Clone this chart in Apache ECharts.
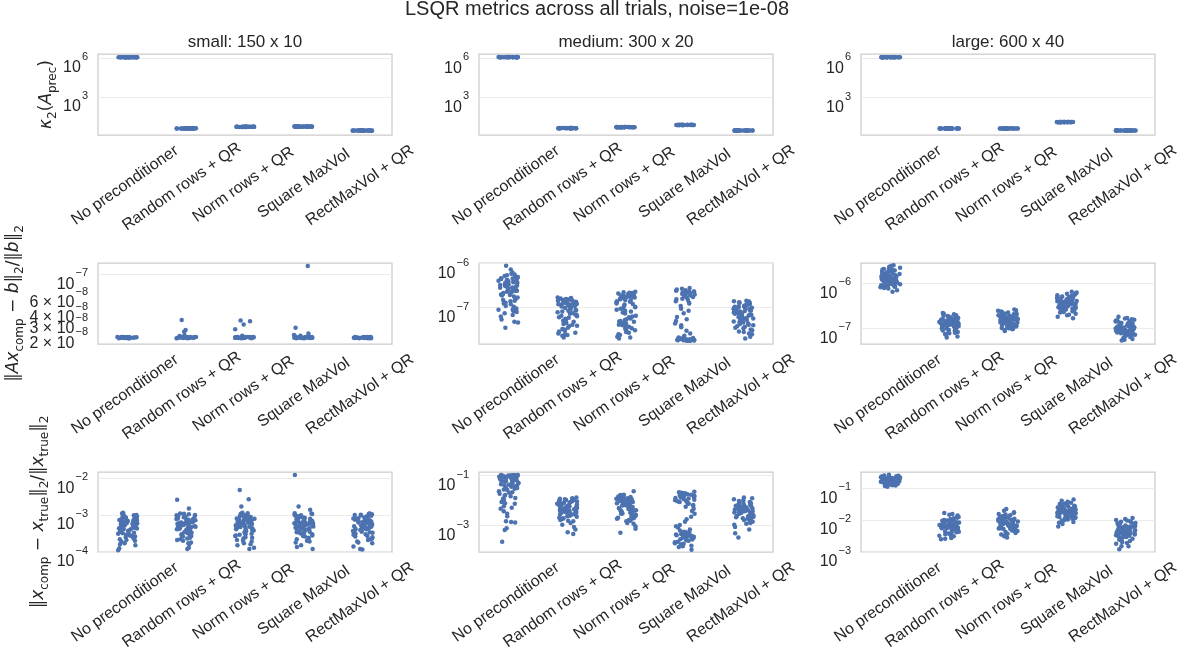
<!DOCTYPE html>
<html>
<head>
<meta charset="utf-8">
<script src="https://cdn.jsdelivr.net/npm/echarts@6/dist/echarts.min.js"></script>
<style>
  html, body { margin: 0; padding: 0; background: #ffffff; }
  #chart { width: 1194px; height: 663px; }
</style>
</head>
<body>
<div id="chart"></div>
<script>
// ---------------------------------------------------------------
// LSQR benchmark: per-trial metrics for five preconditioners
// ---------------------------------------------------------------
const mainTitle = 'LSQR metrics across all trials, noise=1e-08';
const categories = ['No preconditioner', 'Random rows + QR', 'Norm rows + QR', 'Square MaxVol', 'RectMaxVol + QR'];
const sizeTitles = ['small: 150 x 10', 'medium: 300 x 20', 'large: 600 x 40'];

// tick labels of each row / column (log axes)
const kappaTicks = [[1e3, 1e6], [1e3, 1e6], [1e3, 1e6]];
const residualTicks = [[2e-8, 3e-8, 4e-8, 6e-8, 1e-7], [1e-7, 1e-6], [1e-7, 1e-6]];
const residualGrid = [[1e-7], [1e-7, 1e-6], [1e-7, 1e-6]];
const errorTicks = [[1e-4, 1e-3, 1e-2], [1e-3, 1e-1], [1e-3, 1e-2, 1e-1]];

// condition number of the preconditioned matrix, one list per method
const kappaSmall = [
  [1.12e6,1.10e6,1.13e6,1.11e6,1.12e6,1.14e6,1.10e6,1.12e6,1.13e6,1.11e6,1.12e6,1.10e6,1.13e6,1.12e6,1.11e6,1.14e6,1.12e6,1.10e6,1.13e6,1.11e6,1.12e6,1.13e6,1.11e6,1.12e6],
  [3.7,3.8,3.6,3.7,3.75,3.65,3.7,3.8,3.7,3.6,3.75,3.7,3.65,3.8,3.7,3.7,3.6,3.75,3.7,3.65,3.8,3.7,3.75,3.7],
  [4.9,5.0,4.8,4.9,4.95,4.85,4.9,5.0,4.9,4.8,4.95,4.9,4.85,5.0,4.9,4.9,4.8,4.95,4.9,4.85,5.0,4.9,4.95,4.9],
  [5.1,5.2,5.0,5.1,5.15,5.05,5.1,5.2,5.1,5.0,5.15,5.1,5.05,5.2,5.1,5.1,5.0,5.15,5.1,5.05,5.2,5.1,5.15,5.1],
  [2.5,2.55,2.45,2.5,2.52,2.48,2.5,2.55,2.5,2.45,2.52,2.5,2.48,2.55,2.5,2.5,2.45,2.52,2.5,2.48,2.55,2.5,2.52,2.5]
];
const kappaMedium = [
  [1.20e6,1.18e6,1.21e6,1.19e6,1.20e6,1.22e6,1.18e6,1.20e6,1.21e6,1.19e6,1.20e6,1.18e6,1.21e6,1.20e6,1.19e6,1.22e6,1.20e6,1.18e6,1.21e6,1.19e6,1.20e6,1.21e6,1.19e6,1.20e6],
  [4.2,4.3,4.1,4.2,4.25,4.15,4.2,4.3,4.2,4.1,4.25,4.2,4.15,4.3,4.2,4.2,4.1,4.25,4.2,4.15,4.3,4.2,4.25,4.2],
  [5.0,5.1,4.9,5.0,5.05,4.95,5.0,5.1,5.0,4.9,5.05,5.0,4.95,5.1,5.0,5.0,4.9,5.05,5.0,4.95,5.1,5.0,5.05,5.0],
  [7.4,7.6,7.2,7.4,7.5,7.3,7.4,7.6,7.4,7.2,7.5,7.4,7.3,7.6,7.4,7.4,7.2,7.5,7.4,7.3,7.6,7.4,7.5,7.4],
  [2.8,2.82,2.78,2.8,2.81,2.79,2.8,2.82,2.8,2.78,2.81,2.8,2.79,2.82,2.8,2.8,2.78,2.81,2.8,2.79,2.82,2.8,2.81,2.8]
];
const kappaLarge = [
  [1.20e6,1.19e6,1.21e6,1.20e6,1.20e6,1.21e6,1.19e6,1.20e6,1.21e6,1.19e6,1.20e6,1.19e6,1.21e6,1.20e6,1.19e6,1.21e6,1.20e6,1.19e6,1.21e6,1.20e6,1.20e6,1.21e6,1.19e6,1.20e6],
  [4.4,4.45,4.35,4.4,4.42,4.38,4.4,4.45,4.4,4.35,4.42,4.4,4.38,4.45,4.4,4.4,4.35,4.42,4.4,4.38,4.45,4.4,4.42,4.4],
  [4.4,4.5,4.3,4.4,4.45,4.35,4.4,4.5,4.4,4.3,4.45,4.4,4.35,4.5,4.4,4.4,4.3,4.45,4.4,4.35,4.5,4.4,4.45,4.4],
  [13.5,13.8,13.2,13.5,13.7,13.3,13.5,13.9,13.5,13.1,13.7,13.5,13.3,13.8,13.5,13.5,13.2,13.7,13.5,13.3,13.8,13.5,13.6,13.4],
  [3.1,3.12,3.08,3.1,3.11,3.09,3.1,3.12,3.1,3.08,3.11,3.1,3.09,3.12,3.1,3.1,3.08,3.11,3.1,3.09,3.12,3.1,3.11,3.1]
];

// relative residual ||A x - b|| / ||b||
const residualSmall = [
  [1.78e-8,1.80e-8,1.76e-8,1.79e-8,1.81e-8,1.77e-8,1.78e-8,1.80e-8,1.79e-8,1.76e-8,1.82e-8,1.78e-8,1.79e-8,1.77e-8,1.80e-8,1.78e-8,1.81e-8,1.79e-8,1.76e-8,1.78e-8,1.80e-8,1.77e-8,1.79e-8,1.81e-8],
  [1.79e-8,1.77e-8,1.81e-8,1.78e-8,1.80e-8,1.76e-8,1.79e-8,1.82e-8,1.78e-8,1.77e-8,1.80e-8,1.79e-8,1.81e-8,1.78e-8,1.76e-8,1.80e-8,1.79e-8,1.77e-8,1.82e-8,1.78e-8,1.80e-8,1.79e-8,2.88e-8,2.10e-8,2.20e-8,1.90e-8,1.86e-8],
  [1.80e-8,1.78e-8,1.77e-8,1.81e-8,1.79e-8,1.76e-8,1.80e-8,1.78e-8,1.82e-8,1.79e-8,1.77e-8,1.80e-8,1.78e-8,1.81e-8,1.79e-8,1.76e-8,1.80e-8,1.78e-8,1.77e-8,1.81e-8,1.79e-8,1.78e-8,2.24e-8,2.78e-8,2.85e-8,2.55e-8,1.88e-8],
  [1.79e-8,1.81e-8,1.77e-8,1.80e-8,1.78e-8,1.76e-8,1.82e-8,1.79e-8,1.77e-8,1.80e-8,1.78e-8,1.81e-8,1.79e-8,1.76e-8,1.80e-8,1.78e-8,1.83e-8,1.79e-8,1.77e-8,1.80e-8,1.85e-8,1.88e-8,1.25e-7,2.34e-8,2.00e-8,1.91e-8],
  [1.77e-8,1.79e-8,1.80e-8,1.78e-8,1.76e-8,1.81e-8,1.79e-8,1.77e-8,1.80e-8,1.78e-8,1.82e-8,1.79e-8,1.76e-8,1.80e-8,1.78e-8,1.77e-8,1.81e-8,1.79e-8,1.78e-8,1.80e-8,1.76e-8,1.79e-8,1.81e-8,1.78e-8]
];
const residualMedium = [
  [9.0e-7,7.4e-7,6.3e-7,5.9e-7,5.5e-7,5.3e-7,5.0e-7,4.7e-7,4.5e-7,4.4e-7,4.1e-7,3.9e-7,3.8e-7,3.6e-7,3.5e-7,3.3e-7,3.2e-7,3.1e-7,2.9e-7,2.8e-7,2.7e-7,2.5e-7,2.4e-7,2.3e-7,2.2e-7,2.0e-7,1.9e-7,1.8e-7,1.6e-7,1.5e-7,1.4e-7,1.3e-7,1.2e-7,1.1e-7,9.6e-8,9.0e-8,8.7e-8,8.4e-8,7.5e-8,6.3e-8,5.4e-8,4.8e-8,4.6e-8,3.5e-8,4.3e-7,3.4e-7,2.6e-7,
   5.7e-7,5.1e-7,4.8e-7,4.6e-7,4.2e-7,4.0e-7,3.7e-7,3.55e-7,3.35e-7,3.15e-7,3.0e-7,2.85e-7,2.65e-7,2.45e-7,2.35e-7,2.15e-7,2.05e-7,1.95e-7,1.7e-7,1.45e-7,1.25e-7,1.05e-7,9.3e-8,8.0e-8,6.8e-8],
  [1.70e-7,1.62e-7,1.55e-7,1.58e-7,1.48e-7,1.44e-7,1.40e-7,1.36e-7,1.31e-7,1.27e-7,1.22e-7,1.18e-7,1.15e-7,1.09e-7,1.05e-7,1.01e-7,9.6e-8,9.3e-8,8.8e-8,8.2e-8,7.9e-8,7.3e-8,6.9e-8,6.4e-8,6.1e-8,5.6e-8,5.3e-8,4.8e-8,4.5e-8,4.1e-8,3.8e-8,3.5e-8,3.2e-8,2.9e-8,2.7e-8,2.5e-8,2.3e-8,2.1e-8,1.34e-7,1.12e-7,
   1.66e-7,1.52e-7,1.46e-7,1.38e-7,1.29e-7,1.2e-7,1.07e-7,9.9e-8,9.0e-8,8.5e-8,7.6e-8,7.0e-8,6.6e-8,5.9e-8,5.1e-8,4.6e-8,4.3e-8,3.9e-8,3.3e-8,3.0e-8,2.6e-8,2.4e-8,1.6e-7,1.42e-7,1.17e-7],
  [2.3e-7,2.2e-7,2.1e-7,2.0e-7,1.9e-7,1.85e-7,1.78e-7,1.7e-7,1.62e-7,1.55e-7,1.48e-7,1.4e-7,1.32e-7,1.25e-7,1.18e-7,1.1e-7,1.02e-7,9.5e-8,9.0e-8,8.2e-8,7.4e-8,6.6e-8,6.1e-8,5.7e-8,5.3e-8,4.9e-8,4.6e-8,4.3e-8,4.0e-8,3.7e-8,3.5e-8,3.3e-8,3.0e-8,2.8e-8,2.5e-8,2.2e-8,2.0e-8,1.95e-7,1.6e-7,5.0e-8,
   2.25e-7,2.05e-7,1.95e-7,1.82e-7,1.74e-7,1.66e-7,1.5e-7,1.36e-7,1.22e-7,1.06e-7,9.7e-8,8.6e-8,7.8e-8,6.3e-8,5.5e-8,4.8e-8,4.4e-8,4.1e-8,3.8e-8,3.4e-8,3.1e-8,2.7e-8,2.4e-8,2.1e-8,2.15e-7],
  [2.8e-7,2.6e-7,2.5e-7,2.4e-7,2.3e-7,2.2e-7,2.1e-7,2.0e-7,1.9e-7,1.8e-7,1.7e-7,1.6e-7,1.5e-7,1.4e-7,1.25e-7,1.1e-7,9.5e-8,7.5e-8,6.2e-8,5.0e-8,4.4e-8,3.6e-8,3.0e-8,2.6e-8,2.3e-8,2.15e-8,2.05e-8,1.98e-8,1.92e-8,1.88e-8,1.85e-8,1.83e-8,1.81e-8,1.80e-8,1.79e-8,1.86e-8,1.9e-8,1.84e-8,1.82e-8,1.95e-8,
   2.7e-7,2.45e-7,2.35e-7,2.15e-7,2.05e-7,1.95e-7,1.75e-7,1.55e-7,1.3e-7,8.5e-8,5.5e-8,4.0e-8,1.84e-8,1.86e-8,1.81e-8,1.83e-8,1.87e-8,1.8e-8,1.89e-8,1.82e-8,1.85e-8,1.93e-8,2.0e-8,2.1e-8,1.78e-8],
  [1.45e-7,1.38e-7,1.3e-7,1.25e-7,1.2e-7,1.15e-7,1.1e-7,1.06e-7,1.02e-7,9.8e-8,9.4e-8,9.0e-8,8.6e-8,8.2e-8,7.8e-8,7.5e-8,7.1e-8,6.8e-8,6.4e-8,6.1e-8,5.8e-8,5.5e-8,5.2e-8,4.9e-8,4.6e-8,4.3e-8,4.0e-8,3.7e-8,3.4e-8,3.1e-8,2.8e-8,2.5e-8,2.2e-8,2.0e-8,1.08e-7,9.2e-8,8.0e-8,6.6e-8,5.6e-8,1.18e-7,
   1.4e-7,1.33e-7,1.22e-7,1.13e-7,1.04e-7,9.6e-8,8.8e-8,8.4e-8,7.7e-8,7.3e-8,6.9e-8,6.2e-8,5.7e-8,5.3e-8,5.0e-8,4.7e-8,4.4e-8,4.1e-8,3.8e-8,3.5e-8,3.2e-8,2.9e-8,2.6e-8,1.27e-7,1.0e-7]
];
const residualLarge = [
  [2.5e-6,2.3e-6,2.2e-6,2.05e-6,1.95e-6,1.85e-6,1.8e-6,1.72e-6,1.65e-6,1.6e-6,1.55e-6,1.5e-6,1.46e-6,1.42e-6,1.38e-6,1.34e-6,1.3e-6,1.27e-6,1.24e-6,1.2e-6,1.17e-6,1.14e-6,1.1e-6,1.07e-6,1.04e-6,1.0e-6,9.7e-7,9.4e-7,9.1e-7,8.8e-7,8.5e-7,8.1e-7,7.6e-7,7.0e-7,6.5e-7,1.52e-6,1.32e-6,1.12e-6,1.25e-6,1.4e-6,
   2.4e-6,2.1e-6,1.9e-6,1.75e-6,1.68e-6,1.62e-6,1.57e-6,1.48e-6,1.44e-6,1.36e-6,1.28e-6,1.22e-6,1.18e-6,1.15e-6,1.08e-6,1.02e-6,9.5e-7,9.0e-7,8.3e-7,7.8e-7,1.6e-6,1.35e-6,1.26e-6,1.1e-6,2.0e-6],
  [2.2e-7,2.05e-7,1.95e-7,1.88e-7,1.8e-7,1.74e-7,1.68e-7,1.62e-7,1.57e-7,1.52e-7,1.47e-7,1.43e-7,1.39e-7,1.35e-7,1.31e-7,1.28e-7,1.24e-7,1.2e-7,1.17e-7,1.13e-7,1.1e-7,1.06e-7,1.03e-7,1.0e-7,9.6e-8,9.2e-8,8.8e-8,8.3e-8,7.8e-8,7.2e-8,6.6e-8,6.3e-8,1.45e-7,1.33e-7,1.22e-7,1.55e-7,1.66e-7,1.15e-7,9.9e-8,1.38e-7,
   2.1e-7,1.9e-7,1.76e-7,1.7e-7,1.6e-7,1.5e-7,1.45e-7,1.41e-7,1.37e-7,1.32e-7,1.26e-7,1.21e-7,1.16e-7,1.11e-7,1.08e-7,1.04e-7,9.8e-8,9.4e-8,9.0e-8,8.5e-8,8.0e-8,7.5e-8,1.29e-7,1.19e-7,1.48e-7],
  [2.6e-7,2.45e-7,2.35e-7,2.25e-7,2.15e-7,2.08e-7,2.0e-7,1.93e-7,1.87e-7,1.81e-7,1.75e-7,1.7e-7,1.65e-7,1.6e-7,1.55e-7,1.5e-7,1.46e-7,1.42e-7,1.38e-7,1.34e-7,1.3e-7,1.26e-7,1.22e-7,1.18e-7,1.14e-7,1.1e-7,1.05e-7,1.0e-7,9.5e-8,8.7e-8,1.62e-7,1.52e-7,1.44e-7,1.78e-7,1.9e-7,1.36e-7,1.28e-7,2.1e-7,1.57e-7,1.2e-7,
   2.5e-7,2.3e-7,2.2e-7,2.05e-7,1.96e-7,1.84e-7,1.72e-7,1.67e-7,1.58e-7,1.53e-7,1.48e-7,1.43e-7,1.39e-7,1.32e-7,1.24e-7,1.16e-7,1.12e-7,1.07e-7,1.02e-7,9.8e-8,9.2e-8,1.63e-7,1.47e-7,1.35e-7,1.79e-7],
  [6.5e-7,6.0e-7,5.6e-7,5.3e-7,5.0e-7,4.8e-7,4.6e-7,4.4e-7,4.25e-7,4.1e-7,3.95e-7,3.8e-7,3.7e-7,3.6e-7,3.5e-7,3.4e-7,3.3e-7,3.2e-7,3.1e-7,3.0e-7,2.9e-7,2.8e-7,2.7e-7,2.55e-7,2.4e-7,2.25e-7,2.1e-7,1.95e-7,1.8e-7,1.67e-7,4.5e-7,3.85e-7,3.45e-7,4.0e-7,3.65e-7,2.95e-7,3.25e-7,4.3e-7,3.55e-7,2.6e-7,
   6.2e-7,5.8e-7,5.4e-7,5.1e-7,4.9e-7,4.7e-7,4.5e-7,4.2e-7,4.05e-7,3.9e-7,3.75e-7,3.6e-7,3.5e-7,3.38e-7,3.28e-7,3.15e-7,3.05e-7,2.85e-7,2.75e-7,2.5e-7,2.3e-7,2.0e-7,3.7e-7,3.3e-7,4.1e-7],
  [1.8e-7,1.65e-7,1.55e-7,1.48e-7,1.41e-7,1.35e-7,1.29e-7,1.24e-7,1.19e-7,1.14e-7,1.1e-7,1.06e-7,1.02e-7,9.9e-8,9.6e-8,9.3e-8,9.0e-8,8.7e-8,8.4e-8,8.1e-8,7.8e-8,7.5e-8,7.2e-8,6.9e-8,6.6e-8,6.2e-8,5.8e-8,5.4e-8,1.0e-7,9.4e-8,8.8e-8,1.12e-7,1.27e-7,8.2e-8,7.6e-8,1.05e-7,9.8e-8,1.17e-7,7.0e-8,8.9e-8,
   1.7e-7,1.6e-7,1.52e-7,1.44e-7,1.38e-7,1.32e-7,1.26e-7,1.21e-7,1.16e-7,1.12e-7,1.08e-7,1.03e-7,9.7e-8,9.2e-8,8.6e-8,8.3e-8,8.0e-8,7.7e-8,7.3e-8,6.8e-8,6.4e-8,6.0e-8,5.6e-8,9.5e-8,1.0e-7]
];

// relative forward error ||x - x_true|| / ||x_true||
const errorSmall = [
  [1.15e-3,1.1e-3,1.05e-3,9.8e-4,9.2e-4,8.6e-4,8.1e-4,7.7e-4,7.3e-4,6.9e-4,6.5e-4,6.2e-4,5.9e-4,5.6e-4,5.3e-4,5.0e-4,4.8e-4,4.5e-4,4.3e-4,4.1e-4,3.9e-4,3.7e-4,3.5e-4,3.3e-4,3.1e-4,2.9e-4,2.7e-4,2.5e-4,2.3e-4,2.1e-4,1.9e-4,1.7e-4,1.5e-4,1.25e-4,1.1e-4,5.7e-4,4.6e-4,6.0e-4,3.8e-4,7.0e-4,
   1.0e-3,9.5e-4,8.8e-4,8.3e-4,7.9e-4,7.5e-4,7.1e-4,6.7e-4,6.3e-4,5.8e-4,5.5e-4,5.1e-4,4.9e-4,4.4e-4,4.2e-4,4.0e-4,3.6e-4,3.4e-4,3.2e-4,3.0e-4,2.8e-4,2.6e-4,2.2e-4,2.0e-4,1.6e-4],
  [2.6e-3,1.5e-3,1.1e-3,1.05e-3,9.8e-4,9.2e-4,8.7e-4,8.2e-4,7.8e-4,7.4e-4,7.0e-4,6.7e-4,6.4e-4,6.1e-4,5.8e-4,5.5e-4,5.2e-4,5.0e-4,4.7e-4,4.5e-4,4.2e-4,4.0e-4,3.8e-4,3.6e-4,3.4e-4,3.2e-4,3.0e-4,2.8e-4,2.6e-4,2.4e-4,2.2e-4,2.0e-4,1.8e-4,1.6e-4,1.3e-4,1.2e-4,6.3e-4,5.3e-4,7.6e-4,4.4e-4,5.6e-4,6.9e-4,
   1.08e-3,1.0e-3,9.5e-4,9.0e-4,8.4e-4,8.0e-4,7.6e-4,7.2e-4,6.6e-4,6.2e-4,5.9e-4,5.4e-4,5.1e-4,4.8e-4,4.6e-4,4.3e-4,4.1e-4,3.9e-4,3.5e-4,3.3e-4,2.9e-4,2.7e-4,2.3e-4,2.1e-4,1.7e-4],
  [4.8e-3,2.7e-3,1.7e-3,1.15e-3,1.08e-3,1.0e-3,9.4e-4,8.9e-4,8.4e-4,7.9e-4,7.5e-4,7.1e-4,6.8e-4,6.5e-4,6.2e-4,5.9e-4,5.6e-4,5.3e-4,5.0e-4,4.7e-4,4.4e-4,4.1e-4,3.8e-4,3.6e-4,3.3e-4,3.1e-4,2.9e-4,2.7e-4,2.5e-4,2.3e-4,2.1e-4,1.9e-4,1.7e-4,1.5e-4,1.3e-4,1.2e-4,6.0e-4,7.3e-4,5.5e-4,4.9e-4,6.6e-4,8.1e-4,
   1.12e-3,1.04e-3,9.7e-4,9.1e-4,8.6e-4,8.2e-4,7.7e-4,7.3e-4,6.9e-4,6.4e-4,6.1e-4,5.7e-4,5.4e-4,5.1e-4,4.8e-4,4.5e-4,4.2e-4,3.9e-4,3.7e-4,3.4e-4,3.0e-4,2.8e-4,2.4e-4,2.0e-4,1.6e-4],
  [1.23e-2,1.7e-3,1.4e-3,1.12e-3,1.06e-3,9.9e-4,9.3e-4,8.7e-4,8.2e-4,7.7e-4,7.3e-4,6.9e-4,6.5e-4,6.2e-4,5.9e-4,5.6e-4,5.4e-4,5.1e-4,4.9e-4,4.6e-4,4.3e-4,4.0e-4,3.7e-4,3.4e-4,3.2e-4,3.0e-4,2.8e-4,2.6e-4,2.4e-4,2.2e-4,2.0e-4,1.8e-4,1.5e-4,1.2e-4,5.7e-4,5.2e-4,6.4e-4,4.8e-4,6.0e-4,5.5e-4,7.1e-4,4.4e-4,
   1.1e-3,1.02e-3,9.6e-4,9.0e-4,8.4e-4,7.9e-4,7.5e-4,7.0e-4,6.7e-4,6.3e-4,6.1e-4,5.8e-4,5.3e-4,5.0e-4,4.7e-4,4.5e-4,4.1e-4,3.8e-4,3.5e-4,3.3e-4,2.9e-4,2.7e-4,2.3e-4,1.9e-4,1.35e-4],
  [1.1e-3,1.05e-3,1.0e-3,9.5e-4,9.0e-4,8.5e-4,8.0e-4,7.6e-4,7.2e-4,6.9e-4,6.6e-4,6.3e-4,6.0e-4,5.7e-4,5.4e-4,5.2e-4,4.9e-4,4.7e-4,4.5e-4,4.3e-4,4.1e-4,3.9e-4,3.7e-4,3.5e-4,3.3e-4,3.1e-4,2.9e-4,2.7e-4,2.5e-4,2.3e-4,2.1e-4,1.9e-4,1.7e-4,1.4e-4,1.2e-4,1.15e-4,5.5e-4,4.8e-4,6.2e-4,4.2e-4,
   1.08e-3,1.02e-3,9.7e-4,9.2e-4,8.7e-4,8.2e-4,7.8e-4,7.4e-4,7.0e-4,6.7e-4,6.4e-4,6.1e-4,5.8e-4,5.6e-4,5.3e-4,5.0e-4,4.6e-4,4.4e-4,4.0e-4,3.8e-4,3.4e-4,3.0e-4,2.6e-4,2.2e-4,1.8e-4]
];
const errorMedium = [
  [1.07e-1,1.05e-1,1.02e-1,1.0e-1,9.6e-2,9.2e-2,8.8e-2,8.3e-2,7.9e-2,7.4e-2,7.0e-2,6.6e-2,6.2e-2,5.8e-2,5.4e-2,5.0e-2,4.6e-2,4.2e-2,3.8e-2,3.4e-2,3.0e-2,2.7e-2,2.4e-2,2.1e-2,1.9e-2,1.7e-2,1.5e-2,1.3e-2,1.1e-2,9.0e-3,7.5e-3,6.0e-3,4.8e-3,3.8e-3,3.0e-3,2.4e-3,1.5e-3,1.4e-3,1.35e-3,7.9e-4,6.8e-4,2.3e-4,1.04e-1,9.9e-2,1.06e-1,1.03e-1,1.01e-1,9.7e-2,
   1.05e-1,1.0e-1,9.8e-2,9.4e-2,9.0e-2,8.6e-2,8.1e-2,7.7e-2,7.2e-2,6.8e-2,6.4e-2,6.0e-2,5.6e-2,5.2e-2,4.8e-2,4.4e-2,4.0e-2,3.6e-2,3.2e-2,2.8e-2,2.2e-2,1.6e-2,1.2e-2,8.0e-3,5.2e-3],
  [1.35e-2,1.2e-2,1.1e-2,1.03e-2,9.6e-3,9.0e-3,8.4e-3,7.9e-3,7.4e-3,6.9e-3,6.5e-3,6.1e-3,5.7e-3,5.4e-3,5.1e-3,4.8e-3,4.5e-3,4.2e-3,3.9e-3,3.7e-3,3.5e-3,3.3e-3,3.1e-3,2.9e-3,2.7e-3,2.5e-3,2.3e-3,2.1e-3,1.9e-3,1.7e-3,1.5e-3,1.3e-3,1.1e-3,9.0e-4,7.0e-4,5.5e-4,4.7e-4,4.0e-3,5.9e-3,3.4e-3,
   1.25e-2,1.15e-2,1.06e-2,9.9e-3,9.3e-3,8.7e-3,8.1e-3,7.6e-3,7.1e-3,6.7e-3,6.3e-3,5.9e-3,5.5e-3,5.2e-3,4.9e-3,4.6e-3,4.3e-3,4.1e-3,3.8e-3,3.6e-3,3.2e-3,2.8e-3,2.4e-3,2.0e-3,1.6e-3],
  [2.4e-2,1.75e-2,1.6e-2,1.48e-2,1.36e-2,1.25e-2,1.15e-2,1.06e-2,9.8e-3,9.0e-3,8.3e-3,7.6e-3,7.0e-3,6.4e-3,5.9e-3,5.4e-3,5.0e-3,4.6e-3,4.2e-3,3.9e-3,3.6e-3,3.3e-3,3.0e-3,2.7e-3,2.4e-3,2.1e-3,1.9e-3,1.7e-3,1.5e-3,1.3e-3,1.2e-3,9.5e-4,7.5e-4,5.3e-4,1.1e-2,8.6e-3,6.7e-3,5.2e-3,4.4e-3,1.3e-2,
   1.7e-2,1.55e-2,1.42e-2,1.3e-2,1.2e-2,1.1e-2,1.02e-2,9.4e-3,8.7e-3,7.9e-3,7.3e-3,6.6e-3,6.1e-3,5.6e-3,5.1e-3,4.8e-3,4.3e-3,4.0e-3,3.7e-3,3.4e-3,3.1e-3,2.8e-3,2.3e-3,2.0e-3,1.6e-3],
  [2.3e-2,2.1e-2,1.9e-2,1.75e-2,1.6e-2,1.45e-2,1.3e-2,1.18e-2,1.05e-2,9.5e-3,8.5e-3,7.6e-3,6.8e-3,5.8e-3,4.8e-3,3.9e-3,3.0e-3,2.3e-3,1.8e-3,1.45e-3,2.0e-2,1.4e-2,1.07e-3,8.5e-4,7.0e-4,5.8e-4,5.2e-4,4.7e-4,4.2e-4,3.8e-4,3.4e-4,3.1e-4,2.8e-4,2.5e-4,2.2e-4,2.0e-4,1.8e-4,1.6e-4,1.4e-4,1.1e-4,4.0e-4,3.2e-4,2.6e-4,4.5e-4,
   2.2e-2,1.95e-2,1.8e-2,1.65e-2,1.5e-2,1.35e-2,1.22e-2,1.1e-2,1.0e-2,9.0e-3,8.0e-3,6.3e-3,9.5e-4,6.5e-4,5.5e-4,4.9e-4,4.4e-4,3.9e-4,3.6e-4,3.3e-4,2.9e-4,2.7e-4,2.3e-4,1.9e-4,1.5e-4],
  [1.35e-2,1.25e-2,1.05e-2,9.2e-3,8.4e-3,7.8e-3,7.2e-3,6.7e-3,6.2e-3,5.8e-3,5.4e-3,5.0e-3,4.7e-3,4.4e-3,4.1e-3,3.8e-3,3.6e-3,3.4e-3,3.2e-3,3.0e-3,2.8e-3,2.6e-3,2.4e-3,2.2e-3,2.0e-3,1.8e-3,1.6e-3,1.45e-3,1.3e-3,1.1e-3,9.0e-4,7.0e-4,5.0e-4,3.4e-4,5.6e-3,4.3e-3,3.3e-3,2.5e-3,6.5e-3,3.9e-3,
   1.15e-2,9.8e-3,8.8e-3,8.1e-3,7.5e-3,7.0e-3,6.4e-3,6.0e-3,5.6e-3,5.2e-3,4.8e-3,4.5e-3,4.2e-3,4.0e-3,3.7e-3,3.5e-3,3.1e-3,2.9e-3,2.7e-3,2.3e-3,2.1e-3,1.9e-3,1.7e-3,1.5e-3,1.2e-3]
];
const errorLarge = [
  [2.6e-1,2.45e-1,2.35e-1,2.25e-1,2.18e-1,2.1e-1,2.03e-1,1.97e-1,1.91e-1,1.86e-1,1.81e-1,1.76e-1,1.72e-1,1.68e-1,1.64e-1,1.6e-1,1.56e-1,1.52e-1,1.48e-1,1.44e-1,1.4e-1,1.36e-1,1.32e-1,1.27e-1,1.2e-1,1.1e-1,2.2e-1,1.9e-1,1.7e-1,1.5e-1,2.0e-1,1.78e-1,1.58e-1,1.38e-1,2.3e-1,1.84e-1,
   2.5e-1,2.4e-1,2.28e-1,2.15e-1,2.06e-1,1.99e-1,1.93e-1,1.88e-1,1.83e-1,1.79e-1,1.74e-1,1.7e-1,1.66e-1,1.62e-1,1.57e-1,1.54e-1,1.5e-1,1.46e-1,1.42e-1,1.37e-1,1.33e-1,1.29e-1,1.24e-1,1.16e-1,2.12e-1],
  [1.65e-2,1.45e-2,1.3e-2,1.18e-2,1.08e-2,1.0e-2,9.4e-3,8.9e-3,8.4e-3,8.0e-3,7.6e-3,7.3e-3,7.0e-3,6.7e-3,6.4e-3,6.1e-3,5.9e-3,5.6e-3,5.4e-3,5.1e-3,4.9e-3,4.6e-3,4.4e-3,4.1e-3,3.8e-3,3.5e-3,3.2e-3,2.9e-3,2.7e-3,2.5e-3,6.9e-3,6.2e-3,5.5e-3,7.8e-3,8.7e-3,5.0e-3,4.5e-3,9.8e-3,6.5e-3,5.8e-3,
   1.55e-2,1.38e-2,1.24e-2,1.13e-2,1.04e-2,9.7e-3,9.1e-3,8.6e-3,8.2e-3,7.7e-3,7.4e-3,7.1e-3,6.8e-3,6.6e-3,6.3e-3,6.0e-3,5.7e-3,5.3e-3,5.0e-3,4.7e-3,4.3e-3,4.0e-3,3.6e-3,3.1e-3,2.6e-3],
  [2.2e-2,1.75e-2,1.55e-2,1.4e-2,1.28e-2,1.18e-2,1.1e-2,1.03e-2,9.7e-3,9.2e-3,8.7e-3,8.3e-3,7.9e-3,7.5e-3,7.2e-3,6.9e-3,6.6e-3,6.3e-3,6.0e-3,5.7e-3,5.4e-3,5.1e-3,4.8e-3,4.5e-3,4.2e-3,3.9e-3,3.5e-3,3.1e-3,2.8e-3,8.0e-3,7.0e-3,6.1e-3,5.3e-3,9.0e-3,1.0e-2,7.7e-3,6.7e-3,1.2e-2,4.7e-3,8.5e-3,
   1.95e-2,1.65e-2,1.48e-2,1.34e-2,1.23e-2,1.14e-2,1.06e-2,1.0e-2,9.4e-3,8.9e-3,8.4e-3,8.1e-3,7.7e-3,7.4e-3,7.1e-3,6.8e-3,6.5e-3,6.2e-3,5.8e-3,5.5e-3,5.2e-3,4.9e-3,4.4e-3,3.7e-3,3.2e-3],
  [4.4e-2,3.7e-2,3.3e-2,3.0e-2,2.8e-2,2.6e-2,2.45e-2,2.3e-2,2.2e-2,2.1e-2,2.0e-2,1.92e-2,1.85e-2,1.78e-2,1.72e-2,1.66e-2,1.6e-2,1.54e-2,1.48e-2,1.42e-2,1.36e-2,1.3e-2,1.24e-2,1.17e-2,1.1e-2,1.03e-2,9.5e-3,8.6e-3,7.5e-3,6.3e-3,1.88e-2,1.7e-2,1.57e-2,1.45e-2,2.15e-2,2.5e-2,1.33e-2,1.98e-2,1.62e-2,1.2e-2,
   4.0e-2,3.5e-2,3.15e-2,2.9e-2,2.7e-2,2.55e-2,2.4e-2,2.25e-2,2.12e-2,2.03e-2,1.95e-2,1.87e-2,1.8e-2,1.74e-2,1.68e-2,1.63e-2,1.56e-2,1.5e-2,1.44e-2,1.38e-2,1.28e-2,1.2e-2,1.12e-2,9.8e-3,8.2e-3],
  [1.15e-2,1.0e-2,9.2e-3,8.5e-3,7.9e-3,7.4e-3,6.9e-3,6.5e-3,6.1e-3,5.8e-3,5.5e-3,5.2e-3,4.9e-3,4.7e-3,4.4e-3,4.2e-3,4.0e-3,3.8e-3,3.6e-3,3.4e-3,3.2e-3,3.0e-3,2.8e-3,2.6e-3,2.4e-3,2.2e-3,2.0e-3,1.8e-3,1.5e-3,1.2e-3,4.6e-3,5.0e-3,3.9e-3,5.6e-3,4.3e-3,6.3e-3,3.5e-3,7.1e-3,4.8e-3,3.3e-3,
   1.08e-2,9.6e-3,8.8e-3,8.1e-3,7.6e-3,7.1e-3,6.7e-3,6.3e-3,5.9e-3,5.6e-3,5.3e-3,5.1e-3,4.8e-3,4.5e-3,4.3e-3,4.1e-3,3.9e-3,3.7e-3,3.5e-3,3.1e-3,2.9e-3,2.7e-3,2.3e-3,1.9e-3,1.5e-3]
];

// ---------------------------------------------------------------
// layout
// ---------------------------------------------------------------
const TEXT = '#262626';
const DOT = '#4c72b0';
const FONT = 'Liberation Sans';
const MATH = 'DejaVu Sans';
const TICK_SIZE = 16;
const colLeft = [98, 479, 861];
const rowTop = [54, 263, 472];
const rowHeight = [81, 81, 80];
const plotWidth = 294;

const rows = [
  { data: [kappaSmall, kappaMedium, kappaLarge], labels: kappaTicks, grid: kappaTicks,
    limits: [[1.15, 2.0e6], [1.25, 2.1e6], [1.4, 2.1e6]] },
  { data: [residualSmall, residualMedium, residualLarge], labels: residualTicks, grid: residualGrid,
    limits: [[1.5e-8, 1.36e-7], [1.5e-8, 1.04e-6], [4.5e-8, 2.8e-6]] },
  { data: [errorSmall, errorMedium, errorLarge], labels: errorTicks, grid: errorTicks,
    limits: [[9.9e-5, 1.48e-2], [8.9e-5, 1.41e-1], [9.9e-4, 3.2e-1]] }
];

// y-axis titles written as rich text (italic symbols, subscripts)
const yNames = [
  '{i|κ}{sub|2}{n|(}{i|A}{sub|prec}{n|)}',
  '{n|‖}{i|Ax}{sub|comp}{n| − }{i|b}{n|‖}{sub|2}{n|/‖}{i|b}{n|‖}{sub|2}',
  '{n|‖}{i|x}{sub|comp}{n| − }{i|x}{sub|true}{n|‖}{sub|2}{n|/‖}{i|x}{sub|true}{n|‖}{sub|2}'
];
const yNameGap = [39, 64, 51];
const nameRich = {
  n:   { fontFamily: MATH, fontSize: 17, lineHeight: 17, verticalAlign: 'top', color: TEXT },
  i:   { fontFamily: MATH, fontSize: 17, lineHeight: 17, verticalAlign: 'top', fontStyle: 'italic', color: TEXT },
  sub: { fontFamily: MATH, fontSize: 12, lineHeight: 12, verticalAlign: 'top', padding: [9, 0, 0, 0], color: TEXT }
};

// tick labels in scientific notation with superscript exponents
const tickRich = {
  b: { fontFamily: FONT, fontSize: TICK_SIZE, lineHeight: 16, verticalAlign: 'top', padding: [10, 0, 0, 0], color: TEXT },
  s: { fontFamily: FONT, fontSize: 11, lineHeight: 11, verticalAlign: 'top', padding: [1.5, 0, 0, 1], color: TEXT }
};
function sciLabel(v) {
  const e = Math.floor(Math.log10(v) + 1e-6);
  const m = Math.round(v / Math.pow(10, e));
  const ex = (e < 0 ? '\u2212' : '') + Math.abs(e);
  return m === 1 ? '{b|10}{s|' + ex + '}' : '{b|' + m + ' \u00d7 10}{s|' + ex + '}';
}

// rotated category labels: keep the tops of the rotated boxes level
const ROT = 35, LABEL_H = 16, LABEL_PAD = 11;
const sinR = Math.sin(ROT * Math.PI / 180), cosR = Math.cos(ROT * Math.PI / 180);
const measure = document.createElement('canvas').getContext('2d');
measure.font = TICK_SIZE + 'px "' + FONT + '"';
const labelW = categories.map(t => measure.measureText(t).width);
const minW = Math.min.apply(null, labelW);
const labelMargin = LABEL_PAD + (minW * sinR + LABEL_H * cosR) / 2;
const categoryItems = categories.map((t, k) => {
  const d = (labelW[k] - minW) * sinR / 2;
  return {
    value: t,
    textStyle: {
      align: 'center', verticalAlign: 'middle',
      padding: [2 * cosR * d, 2 * sinR * d, 0, 0]
    }
  };
});

// horizontal spread of the dots inside a category band
function spread(i, c, p) {
  const s = Math.sin((i + 1) * 12.9898 + c * 78.233 + p * 37.719) * 43758.5453;
  return (s - Math.floor(s) - 0.5) * 0.34;
}

const grids = [], labelAxes = [], dotAxes = [], yAxes = [], extraY = [], series = [];
const titles = [{
  text: mainTitle, left: 597, top: 9.5, textAlign: 'center', textVerticalAlign: 'middle', padding: 0,
  textStyle: { fontFamily: FONT, fontSize: 20, fontWeight: 'normal', color: TEXT }
}];
sizeTitles.forEach((t, c) => titles.push({
  text: t, left: colLeft[c] + plotWidth / 2, top: 42, textAlign: 'center', textVerticalAlign: 'middle', padding: 0,
  textStyle: { fontFamily: FONT, fontSize: 17, fontWeight: 'normal', color: TEXT }
}));

function tickLabelStyle(values) {
  return {
    customValues: values, margin: 10, formatter: sciLabel, rich: tickRich,
    color: TEXT, hideOverlap: false, showMinLabel: true, showMaxLabel: true
  };
}

rows.forEach((row, r) => {
  for (let c = 0; c < 3; c++) {
    const p = r * 3 + c;
    grids.push({
      left: colLeft[c], top: rowTop[r], width: plotWidth, height: rowHeight[r],
      show: true, borderColor: '#cccccc', borderWidth: 1.25, backgroundColor: 'transparent',
      containLabel: false, outerBoundsMode: 'none'
    });
    // category axis carrying the method names
    labelAxes.push({
      type: 'category', gridIndex: p, data: categoryItems, boundaryGap: true,
      axisLine: { show: false }, axisTick: { show: false }, splitLine: { show: false },
      axisLabel: {
        interval: 0, rotate: ROT, align: 'center', verticalAlign: 'middle', margin: labelMargin,
        fontFamily: FONT, fontSize: TICK_SIZE, lineHeight: LABEL_H, color: TEXT, hideOverlap: false
      }
    });
    // matching numeric axis so dots can spread across each category band
    dotAxes.push({ type: 'value', gridIndex: p, min: -0.5, max: 4.5, show: false });

    // closely spaced minor-tick labels are spread over three axes sharing one scale
    const dense = row.labels[c].length > 3;
    const group = g => row.labels[c].filter((_, i) => i % 3 === g);
    const y = {
      type: 'log', logBase: 10, gridIndex: p,
      min: row.limits[c][0], max: row.limits[c][1],
      axisLine: { show: false },
      axisTick: { show: false, customValues: row.grid[c] },
      splitLine: { show: true, lineStyle: { color: '#ebebeb', width: 1 } },
      axisLabel: tickLabelStyle(dense ? group(0) : row.labels[c])
    };
    if (c === 0) {
      Object.assign(y, {
        name: yNames[r], nameLocation: 'middle', nameRotate: 90, nameGap: yNameGap[r],
        nameTextStyle: { rich: nameRich, color: TEXT }
      });
    }
    yAxes.push(y);
    if (dense) {
      [1, 2].forEach(g => extraY.push({
        type: 'log', logBase: 10, gridIndex: p, position: 'left', offset: 0,
        min: row.limits[c][0], max: row.limits[c][1],
        axisLine: { show: false }, axisTick: { show: false }, splitLine: { show: false },
        axisLabel: tickLabelStyle(group(g))
      }));
    }
  }
});

rows.forEach((row, r) => {
  for (let c = 0; c < 3; c++) {
    const p = r * 3 + c;
    const pts = [];
    row.data[c].forEach((vals, k) => vals.forEach((v, i) => pts.push([k + spread(i, k, p), v])));
    series.push({
      type: 'scatter', xAxisIndex: 9 + p, yAxisIndex: p, data: pts,
      symbol: 'circle', symbolSize: 4.5, silent: true,
      itemStyle: { color: DOT, opacity: 1, borderWidth: 0 }
    });
  }
});

const chart = echarts.init(document.getElementById('chart'), null, { renderer: 'canvas' });
chart.setOption({
  animation: false,
  backgroundColor: '#ffffff',
  textStyle: { fontFamily: FONT },
  title: titles,
  grid: grids,
  xAxis: labelAxes.concat(dotAxes),
  yAxis: yAxes.concat(extraY),
  series: series
});
</script>
</body>
</html>
